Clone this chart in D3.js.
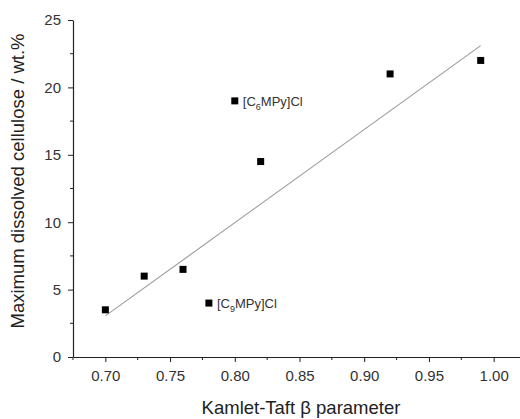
<!DOCTYPE html>
<html><head><meta charset="utf-8">
<script src="https://cdn.jsdelivr.net/npm/d3@7"></script>
<style>
html,body{margin:0;padding:0;background:#fff;}
svg{display:block;font-family:"Liberation Sans",Arial,sans-serif;}
</style></head>
<body>
<svg id="chart" width="520" height="419"></svg>
<script>
// Data
const betaValues = [0.70, 0.73, 0.76, 0.78, 0.80, 0.82, 0.92, 0.99];
const solubility = [3.5, 6.0, 6.5, 4.0, 19.0, 14.5, 21.0, 22.0];
const fitBeta = [0.70, 0.99];
const fitSolubility = [3.05, 23.1];
const annotations = [
  {beta: 0.80, value: 19.0, pre: "[C", sub: "6", post: "MPy]Cl"},
  {beta: 0.78, value: 4.0, pre: "[C", sub: "9", post: "MPy]Cl"}
];
const xTicks = [0.70, 0.75, 0.80, 0.85, 0.90, 0.95, 1.00];
const xMinorTicks = [0.675, 0.725, 0.775, 0.825, 0.875, 0.925, 0.975, 1.025];
const yTicks = [0, 5, 10, 15, 20, 25];
const yMinorTicks = [2.5, 7.5, 12.5, 17.5, 22.5];
const xTitle = "Kamlet-Taft \u03B2 parameter";
const yTitle = "Maximum dissolved cellulose / wt.%";

const svg = d3.select("#chart");
const x = d3.scaleLinear().domain([0.675, 1.025]).range([73, 526]);
const y = d3.scaleLinear().domain([0, 25]).range([357, 20]);
const axisColor = "#222";
const textColor = "#333";

// Fit line
svg.append("line")
  .attr("x1", x(fitBeta[0])).attr("y1", y(fitSolubility[0]))
  .attr("x2", x(fitBeta[1])).attr("y2", y(fitSolubility[1]))
  .attr("stroke", "#9a9a9a").attr("stroke-width", 1.1);

// X axis
const gx = svg.append("g").attr("transform", `translate(0,${y(0)})`);
gx.call(d3.axisBottom(x).tickValues(xTicks).tickFormat(d3.format(".2f")).tickSizeInner(5).tickSizeOuter(0).tickPadding(8));
gx.append("g").selectAll("line").data(xMinorTicks).join("line")
  .attr("x1", d => x(d)).attr("x2", d => x(d)).attr("y1", 0).attr("y2", 3)
  .attr("stroke", axisColor);

// Y axis
const gy = svg.append("g").attr("transform", `translate(${x(0.675)},0)`);
gy.call(d3.axisLeft(y).tickValues(yTicks).tickFormat(d3.format("d")).tickSizeInner(5).tickSizeOuter(0).tickPadding(7));
gy.append("g").selectAll("line").data(yMinorTicks).join("line")
  .attr("y1", d => y(d)).attr("y2", d => y(d)).attr("x1", 0).attr("x2", -3)
  .attr("stroke", axisColor);

[gx, gy].forEach(g => {
  g.selectAll(".domain").attr("stroke", axisColor).attr("stroke-width", 1.2);
  g.selectAll(".tick line").attr("stroke", axisColor);
  g.selectAll(".tick text").attr("fill", textColor).attr("font-size", 15)
    .attr("font-family", '"Liberation Sans",Arial,sans-serif');
});

// Points
svg.append("g").selectAll("rect").data(betaValues.map((b, i) => [b, solubility[i]])).join("rect")
  .attr("x", d => x(d[0]) - 3.5).attr("y", d => y(d[1]) - 3.5)
  .attr("width", 7).attr("height", 7).attr("fill", "#000");

// Annotations
annotations.forEach(a => {
  const t = svg.append("text")
    .attr("x", x(a.beta) + 8).attr("y", y(a.value) + 5)
    .attr("font-size", 13).attr("fill", textColor);
  t.append("tspan").text(a.pre);
  t.append("tspan").text(a.sub).attr("font-size", 9).attr("dy", 4);
  t.append("tspan").text(a.post).attr("dy", -4);
});

// Titles
svg.append("text")
  .attr("x", 301).attr("y", 414)
  .attr("text-anchor", "middle").attr("font-size", 18.5).attr("fill", "#222")
  .text(xTitle);
svg.append("text")
  .attr("transform", "translate(24,181) rotate(-90)")
  .attr("text-anchor", "middle").attr("font-size", 18.5).attr("fill", "#222")
  .text(yTitle);
</script>
</body></html>
